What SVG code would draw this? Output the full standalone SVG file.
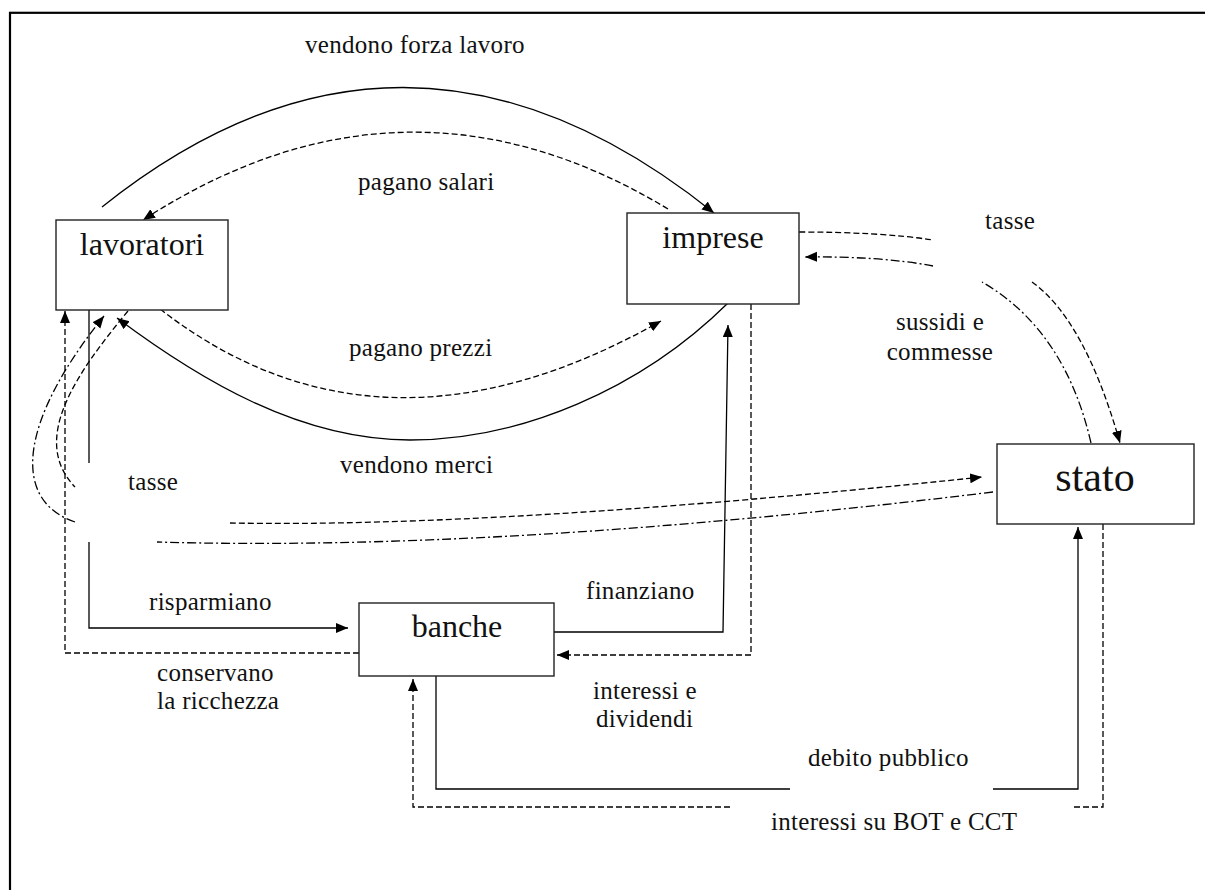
<svg xmlns="http://www.w3.org/2000/svg" width="1205" height="890" viewBox="0 0 1205 890">
<defs>
<marker id="ah" markerUnits="userSpaceOnUse" markerWidth="13" markerHeight="11" refX="12" refY="5" orient="auto">
<path d="M0,0 L12,5 L0,10 z" fill="#000"/>
</marker>
<style>
.box{fill:#fff;stroke:#222;stroke-width:1.4}
.nl{font-family:"Liberation Serif",serif;font-size:32px;fill:#111;text-anchor:middle}
.lb{font-family:"Liberation Serif",serif;font-size:25px;letter-spacing:0.3px;fill:#111}
.c{fill:none;stroke:#000;stroke-width:1.3}
.d{stroke-dasharray:6 3}
.dd{stroke-dasharray:9 3 2 3}
.a{marker-end:url(#ah)}
</style>
</defs>
<rect x="0" y="0" width="1205" height="890" fill="#fff"/>
<rect x="10" y="12.8" width="1210" height="900" fill="none" stroke="#000" stroke-width="2.2"/>

<g id="connectors">
<path class="c a" d="M102,207 Q405,-35 714,213"/>
<path class="c d a" d="M668,209 Q405,50 143,220"/>
<path class="c d a" d="M160,309 Q380,480 661,321"/>
<path class="c a" d="M728,303 C640,390 520,440 410,440 C300,440 200,380 117,318"/>
<path class="c d" d="M799,232 Q880,232 933,240"/>
<path class="c d a" d="M1032,282 Q1085,320 1120,443"/>
<path class="c dd" d="M1091,443 Q1065,330 982,282"/>
<path class="c dd a" d="M933,266 Q880,256 805,257"/>
<path class="c d" d="M128,311 C75,375 30,440 75,487"/>
<path class="c d a" d="M230,523 Q500,528 982,477"/>
<path class="c dd" d="M993,492 Q500,552 157,542"/>
<path class="c dd a" d="M75,522 C10,500 20,420 104,316"/>
<path class="c" d="M89,310 V463"/>
<path class="c a" d="M89,542 V628 H348"/>
<path class="c d a" d="M359,653 H65 V311"/>
<path class="c a" d="M554,632 H723 L728,325"/>
<path class="c d a" d="M751,304 V655 H557"/>
<path class="c" d="M436,676 V789 H790"/>
<path class="c a" d="M993,789 H1078 V527"/>
<path class="c d" d="M1103,524 V807 H1072"/>
<path class="c d a" d="M730,807 H413 V679"/>
</g>

<g id="lavoratori"><rect class="box" x="56" y="220" width="172" height="90"/><text class="nl" x="142" y="255">lavoratori</text></g>
<g id="imprese"><rect class="box" x="627" y="213" width="172" height="91"/><text class="nl" x="713" y="248">imprese</text></g>
<g id="banche"><rect class="box" x="359" y="603" width="195" height="73"/><text class="nl" x="457" y="637">banche</text></g>
<g id="stato"><rect class="box" x="997" y="444" width="197" height="80"/><text class="nl" x="1095" y="491" style="font-size:42px">stato</text></g>

<g id="labels">
<text class="lb" x="305" y="53">vendono forza lavoro</text>
<text class="lb" x="358" y="190">pagano salari</text>
<text class="lb" x="349" y="356">pagano prezzi</text>
<text class="lb" x="340" y="473">vendono merci</text>
<text class="lb" x="128" y="490">tasse</text>
<text class="lb" x="985" y="229">tasse</text>
<text class="lb" x="940" y="330" text-anchor="middle">sussidi e</text>
<text class="lb" x="940" y="360" text-anchor="middle">commesse</text>
<text class="lb" x="149" y="610">risparmiano</text>
<text class="lb" x="157" y="681">conservano</text>
<text class="lb" x="157" y="709">la ricchezza</text>
<text class="lb" x="586" y="599">finanziano</text>
<text class="lb" x="593" y="699">interessi e</text>
<text class="lb" x="596" y="727">dividendi</text>
<text class="lb" x="808" y="766">debito pubblico</text>
<text class="lb" x="771" y="830">interessi su BOT e CCT</text>
</g>
</svg>
